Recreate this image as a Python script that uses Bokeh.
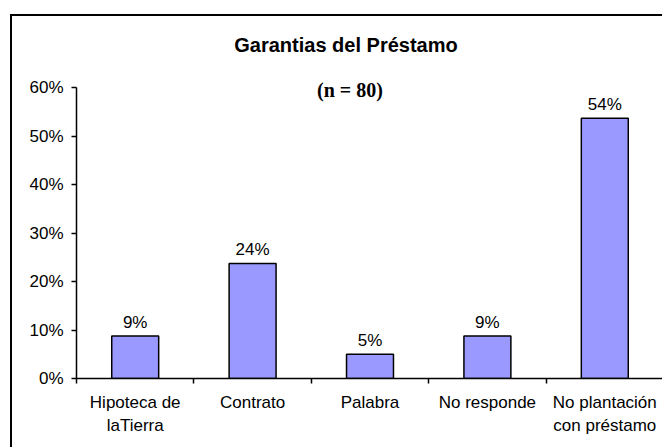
from bokeh.plotting import figure
from bokeh.models import Range1d, FixedTicker, NumeralTickFormatter, ColumnDataSource, LabelSet, Label
from bokeh.core.properties import value
from bokeh.embed import file_html
from bokeh.resources import INLINE

# ---- data ----
categories = ["Hipoteca de\nlaTierra", "Contrato", "Palabra", "No responde", "No plantación\ncon préstamo"]
shares = [0.0875, 0.2375, 0.05, 0.0875, 0.5375]
share_labels = ["9%", "24%", "5%", "9%", "54%"]
y_ticks = [0.0, 0.1, 0.2, 0.3, 0.4, 0.5, 0.6]
title_text = "Garantias del Préstamo"
subtitle_text = "(n = 80)"

SANS = "Liberation Sans"
SERIF = "Liberation Serif"

n = len(categories)
xs = [i + 0.5 for i in range(n)]

# frame spans 360 px in height; the value axis (0..60%) uses the lower 289 px,
# the remaining headroom holds the titles
y_top = y_ticks[-1] * 360 / 289

p = figure(width=650, height=431, title=None,
           x_range=Range1d(0, n), y_range=Range1d(0, y_top),
           output_backend="svg", toolbar_location=None,
           min_border_left=64, min_border_right=1,
           min_border_top=0, min_border_bottom=71)
# chart-area border: top and left edges, continuing past the window
p.styles = {"border-left": "2px solid black", "border-top": "2px solid black",
            "margin-left": "10px", "margin-top": "14px",
            "box-sizing": "content-box"}

p.background_fill_color = "white"
p.border_fill_color = "white"
p.outline_line_color = None
p.xgrid.visible = False
p.ygrid.visible = False

src = ColumnDataSource(dict(x=xs, top=shares, lab=share_labels))
p.vbar(x="x", top="top", bottom=0, width=0.4, source=src,
       fill_color="#9999FF", line_color="black", line_width=1.5)

labels = LabelSet(x="x", y="top", text="lab", source=src,
                  text_align="center", text_baseline="alphabetic", y_offset=8,
                  text_font=value(SANS), text_font_size=value("17px"), text_color="black")
p.add_layout(labels)

# y axis
ya = p.yaxis[0]
ya.ticker = FixedTicker(ticks=y_ticks, minor_ticks=[])
ya.formatter = NumeralTickFormatter(format="0%")
ya.bounds = (y_ticks[0], y_ticks[-1])
ya.axis_line_width = 1.5
ya.axis_line_color = "black"
ya.major_tick_in = 0
ya.major_tick_out = 5
ya.major_tick_line_width = 1.5
ya.minor_tick_line_color = None
ya.major_label_standoff = 8
ya.major_label_text_font = SANS
ya.major_label_text_font_size = "17px"
ya.major_label_text_color = "black"

# x axis: labels at centers, ticks at category boundaries
xa = p.xaxis[0]
xa.ticker = FixedTicker(ticks=xs, minor_ticks=list(range(n + 1)))
xa.major_label_overrides = {x: c for x, c in zip(xs, categories)}
xa.axis_line_width = 1.5
xa.axis_line_color = "black"
xa.major_tick_line_color = None
xa.major_tick_in = 0
xa.major_tick_out = 0
xa.minor_tick_in = 0
xa.minor_tick_out = 5
xa.minor_tick_line_width = 1.5
xa.minor_tick_line_color = "black"
xa.major_label_standoff = 9
xa.major_label_text_font = SANS
xa.major_label_text_font_size = "17px"
xa.major_label_text_color = "black"
xa.major_label_text_line_height = 1.25

xmid = (p.x_range.start + p.x_range.end) / 2
p.add_layout(Label(x=xmid, y=y_ticks[-1], text=title_text, x_offset=-24, y_offset=43,
                   text_align="center", text_baseline="middle",
                   text_font=SANS, text_font_style="bold", text_font_size="20px",
                   text_color="black"))
p.add_layout(Label(x=xmid, y=y_ticks[-1], text=subtitle_text, x_offset=-20, y_offset=-2,
                   text_align="center", text_baseline="middle",
                   text_font=SERIF, text_font_style="bold", text_font_size="20px",
                   text_color="black"))

open("out.html", "w").write(file_html(p, INLINE))
